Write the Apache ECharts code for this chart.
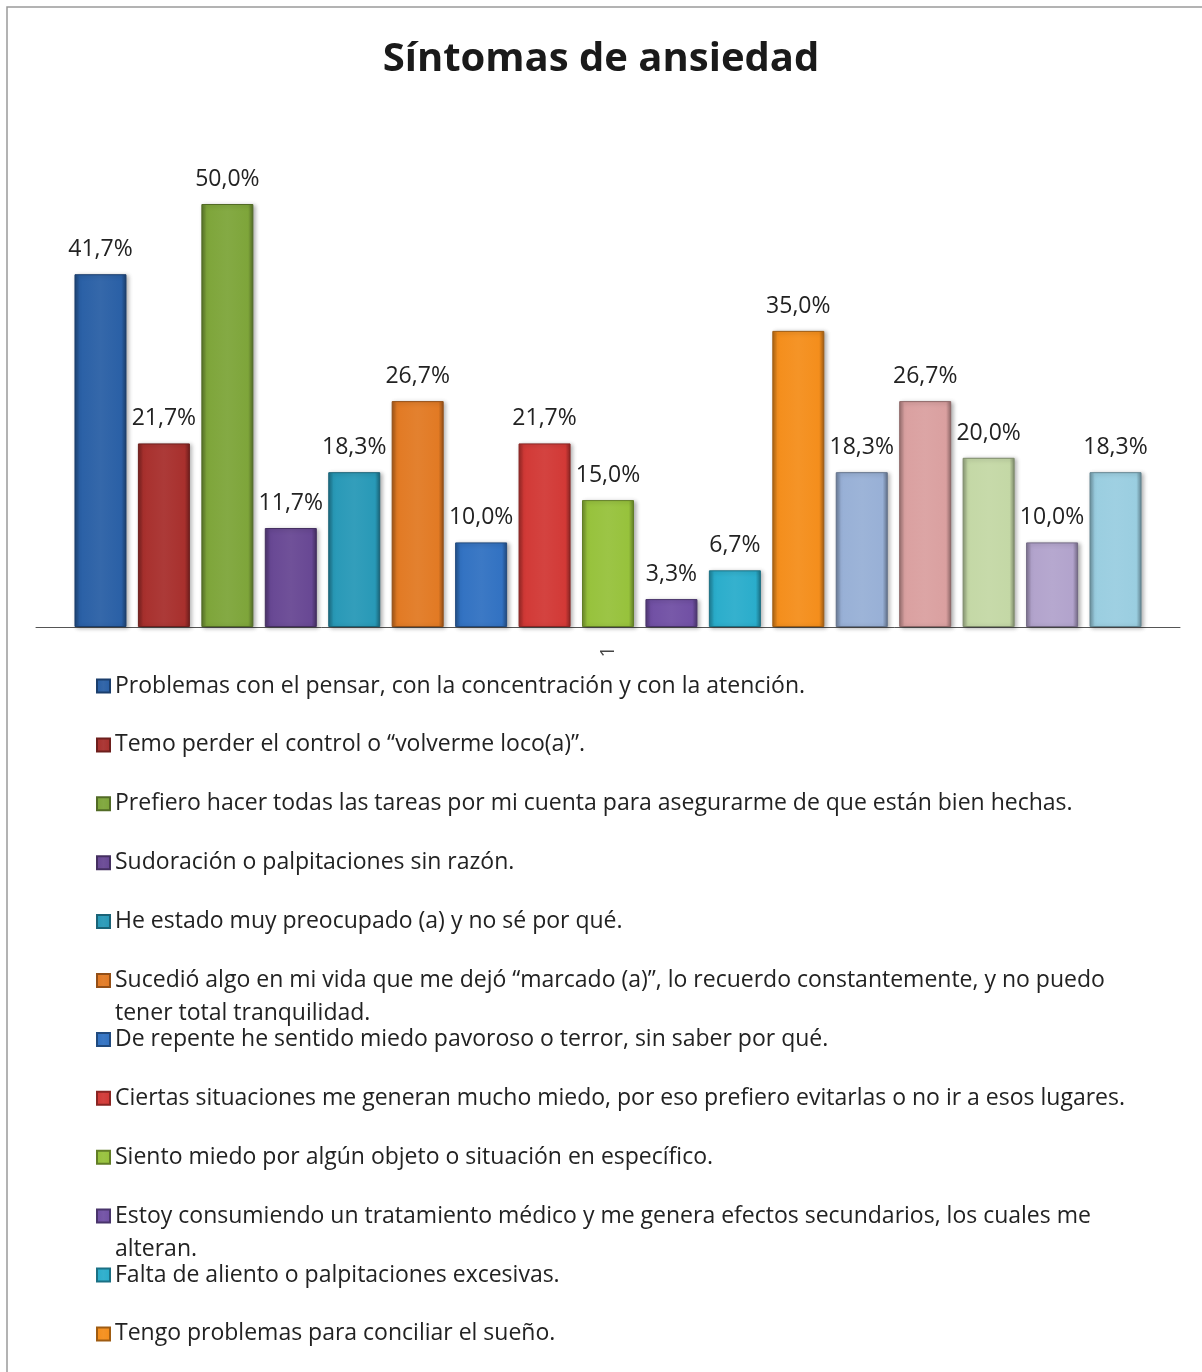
<!DOCTYPE html>
<html>
<head>
<meta charset="utf-8">
<script src="https://cdn.jsdelivr.net/npm/echarts@6/dist/echarts.min.js"></script>
<style>
  html, body { margin: 0; padding: 0; background: #fff; }
  #chart { width: 1202px; height: 1372px; }
</style>
</head>
<body>
<div id="chart"></div>
<script>
// categorias (una sola en el eje X)
const categories = ['1'];

// nombres de las series (solo las 12 primeras aparecen en la leyenda)
const seriesNames = [
  'Problemas con el pensar, con la concentración y con la atención.',
  'Temo perder el control o “volverme loco(a)”.',
  'Prefiero hacer todas las tareas por mi cuenta para asegurarme de que están bien hechas.',
  'Sudoración o palpitaciones sin razón.',
  'He estado muy preocupado (a) y no sé por qué.',
  'Sucedió algo en mi vida que me dejó “marcado (a)”, lo recuerdo constantemente, y no puedo tener total tranquilidad.',
  'De repente he sentido miedo pavoroso o terror, sin saber por qué.',
  'Ciertas situaciones me generan mucho miedo, por eso prefiero evitarlas o no ir a esos lugares.',
  'Siento miedo por algún objeto o situación en específico.',
  'Estoy consumiendo un tratamiento médico y me genera efectos secundarios, los cuales me alteran.',
  'Falta de aliento o palpitaciones excesivas.',
  'Tengo problemas para conciliar el sueño.',
  'Serie 13',
  'Serie 14',
  'Serie 15',
  'Serie 16',
  'Serie 17'
];

// porcentajes
const values = [41.7, 21.7, 50.0, 11.7, 18.3, 26.7, 10.0, 21.7, 15.0, 3.3, 6.7, 35.0, 18.3, 26.7, 20.0, 10.0, 18.3];

const colors = [
  '#2A60A6', '#A8302D', '#7EA53A', '#684894', '#2899B7', '#E27A24',
  '#3272C2', '#D23936', '#97C23C', '#7150A4', '#2AADCB', '#F48E1C',
  '#98B0D6', '#DAA0A0', '#C4D8A6', '#B2A3CC', '#9ACEE0'
];

const legendCount = 12;

function shade(hex, f) {
  const n = parseInt(hex.slice(1), 16);
  let r = (n >> 16) & 255, g = (n >> 8) & 255, b = n & 255;
  if (f < 0) { r *= 1 + f; g *= 1 + f; b *= 1 + f; }
  else { r += (255 - r) * f; g += (255 - g) * f; b += (255 - b) * f; }
  return 'rgb(' + Math.round(r) + ',' + Math.round(g) + ',' + Math.round(b) + ')';
}

const FONT = '"Open Sans", "Noto Sans", sans-serif';
const legendFontSize = 23;
const legendLineH = 33;
const wrapWidth = 1040;

// partir los textos largos de la leyenda en lineas
const ctx = document.createElement('canvas').getContext('2d');
ctx.font = legendFontSize + 'px "Open Sans"';
function wrapText(text) {
  const words = text.split(' ');
  const lines = [];
  let cur = '';
  words.forEach(w => {
    const test = cur ? cur + ' ' + w : w;
    if (cur && ctx.measureText(test).width > wrapWidth) {
      lines.push(cur);
      cur = w;
    } else {
      cur = test;
    }
  });
  lines.push(cur);
  return lines;
}

const chart = echarts.init(document.getElementById('chart'));

const series = values.map((v, i) => ({
  name: seriesNames[i],
  type: 'bar',
  data: [v],
  barWidth: 52,
  barGap: '22%',
  itemStyle: {
    color: new echarts.graphic.LinearGradient(0, 0, 1, 0, [
      { offset: 0, color: shade(colors[i], -0.3) },
      { offset: 0.1, color: colors[i] },
      { offset: 0.5, color: shade(colors[i], 0.05) },
      { offset: 0.9, color: colors[i] },
      { offset: 1, color: shade(colors[i], -0.35) }
    ]),
    borderColor: shade(colors[i], -0.35),
    borderWidth: 1,
    shadowColor: 'rgba(0,0,0,0.3)',
    shadowBlur: 4,
    shadowOffsetX: 2,
    shadowOffsetY: 1
  },
  label: {
    show: true,
    position: 'top',
    distance: 13,
    fontFamily: FONT,
    fontSize: 23,
    color: '#222',
    formatter: p => p.value.toFixed(1).replace('.', ',') + '%'
  }
}));

// una leyenda por elemento, con separacion fija como en el original
const legendTop0 = 686;
const legendStep = 58.9;
const legends = [];
for (let i = 0; i < legendCount; i++) {
  const lines = wrapText(seriesNames[i]);
  const n = lines.length;
  // linea vacia al inicio para que el icono quede junto a la primera linea
  const shown = n > 1 ? new Array(n - 1).fill(' ').concat(lines) : lines;
  legends.push({
    data: [seriesNames[i]],
    orient: 'vertical',
    left: 96,
    top: legendTop0 + i * legendStep - legendLineH * shown.length / 2,
    padding: 0,
    itemWidth: 13,
    itemHeight: 13,
    itemGap: 0,
    icon: 'rect',
    formatter: () => shown.join('\n'),
    textStyle: {
      fontFamily: FONT,
      fontSize: legendFontSize,
      lineHeight: legendLineH,
      color: '#222'
    }
  });
}

chart.setOption({
  backgroundColor: '#fff',
  animation: false,
  title: {
    text: 'Síntomas de ansiedad',
    left: 'center',
    top: 35,
    textStyle: { fontFamily: FONT, fontWeight: 'bold', fontSize: 40, color: '#1a1a1a' }
  },
  graphic: [{
    type: 'rect',
    shape: { x: 7, y: 7, width: 1400, height: 1600 },
    style: { fill: 'none', stroke: '#9a9a9a', lineWidth: 1.5 },
    silent: true
  }],
  legend: legends,
  grid: { left: 36, right: 22, top: 627 - 60 * 8.46, height: 60 * 8.46 },
  xAxis: {
    type: 'category',
    data: categories,
    axisLine: { lineStyle: { color: '#555', width: 1 } },
    axisTick: { show: false },
    axisLabel: { rotate: 90, margin: 19, fontFamily: FONT, fontSize: 20, color: '#444' }
  },
  yAxis: {
    type: 'value',
    min: 0,
    max: 60,
    show: false,
    splitLine: { show: false }
  },
  series: series
});
</script>
</body>
</html>
